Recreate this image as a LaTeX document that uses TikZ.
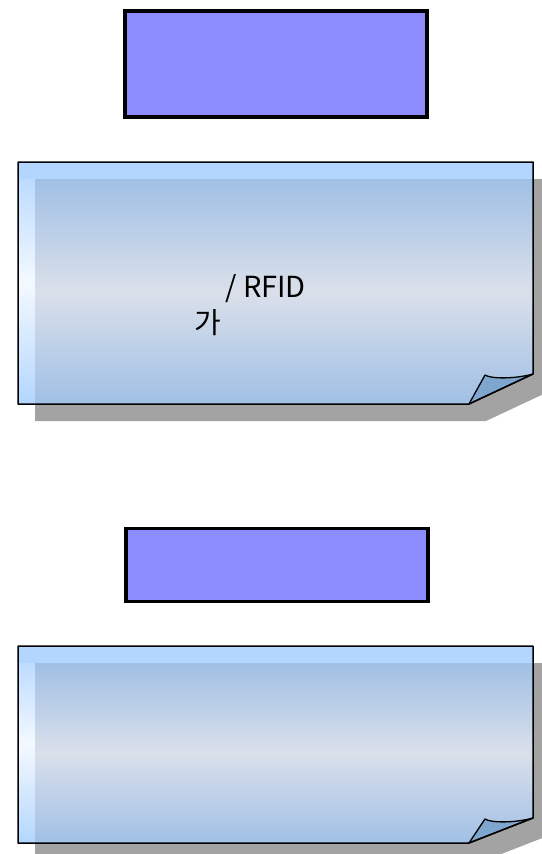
\documentclass[tikz,border=0pt]{standalone}
\usepackage{fontspec}
\setmainfont{Noto Sans CJK KR}
\definecolor{boxblue}{HTML}{8C8CFF}
\definecolor{memoedge}{HTML}{B3D6FF}
\definecolor{memoglow}{HTML}{F4F9FF}
\definecolor{memotop}{HTML}{A0C0E5}
\definecolor{memomid}{HTML}{DAE0EA}
\definecolor{memofold}{HTML}{7FA6CF}
\definecolor{memoshade}{HTML}{A3A3A3}
\begin{document}
\begin{tikzpicture}[x=1pt,y=-1pt,
  titlebox/.style={draw=black,line width=3.5pt,fill=boxblue,inner sep=0pt},
  memotext/.style={font=\fontsize{29}{34}\selectfont,inner sep=0pt}]
  % #1 top, #2 bottom, #3 height of the curled corner
  \newcommand{\memo}[3]{
    \fill[memoshade] (35,{#1+17}) -- (550,{#1+17}) -- (550,{#2-#3+17}) -- (486,{#2+17}) -- (35,{#2+17}) -- cycle;
    \begin{scope}
      \clip (18,#1) -- (533,#1) -- (533,{#2-#3}) -- (469,#2) -- (18,#2) -- cycle;
      \shade[top color=memoedge,bottom color=memoedge,middle color=memoglow] (18,#1) rectangle (35,#2);
      \fill[memoedge] (18,#1) rectangle (533,{#1+17});
      \shade[top color=memotop,bottom color=memotop,middle color=memomid] (35,{#1+17}) rectangle (533,#2);
    \end{scope}
    \filldraw[fill=memofold,line width=1.3pt,line join=round] (469,#2) -- (485,{#2-#3+1})
      .. controls (491,{#2-#3+5}) and (515,{#2-#3+5}) .. (533,{#2-#3}) -- cycle;
    \draw[line width=1.5pt,line join=round] (18,#1) -- (533,#1) -- (533,{#2-#3}) -- (469,#2) -- (18,#2) -- cycle;
  }
  \useasboundingbox (0,0) rectangle (541,854);
  \node[titlebox,minimum width=302pt,minimum height=106pt] (box1) at (276,64) {};
  \memo{162}{404}{30}
  \node[memotext,anchor=base west] (rfid) at (225,297) {/ RFID};
  \node[memotext] (ga) at (208,323) {가};
  \node[titlebox,minimum width=302pt,minimum height=73pt] (box2) at (277,565) {};
  \memo{646}{843}{25}
\end{tikzpicture}
\end{document}
